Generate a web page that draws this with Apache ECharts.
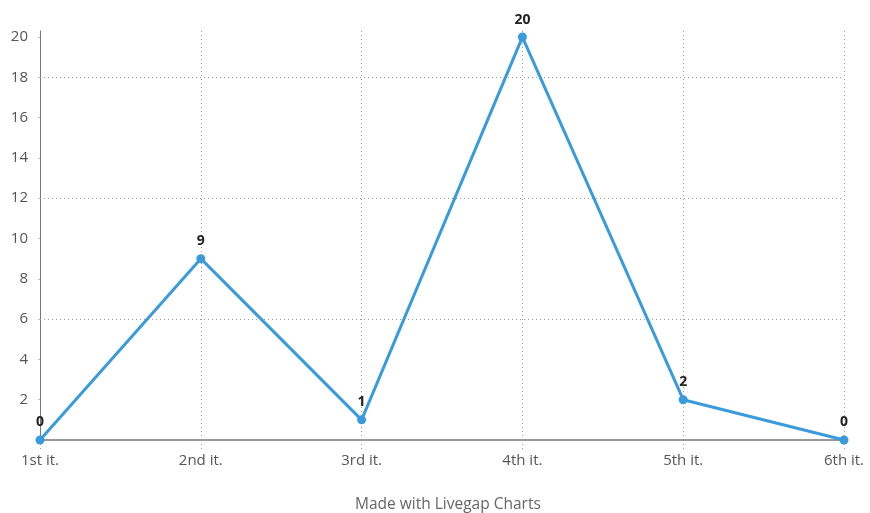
<!DOCTYPE html>
<html><head><meta charset="utf-8">
<script src="https://cdn.jsdelivr.net/npm/echarts@6/dist/echarts.min.js"></script>
<style>html,body{margin:0;padding:0;background:#fff}#c{width:870px;height:513px}</style>
</head><body><div id="c"></div>
<script>
const categories = ['1st it.', '2nd it.', '3rd it.', '4th it.', '5th it.', '6th it.'];
const values = [0, 9, 1, 20, 2, 0];
const yTicks = [0, 2, 4, 6, 8, 10, 12, 14, 16, 18, 20];
const gridValues = [6, 12, 18];
const font = '"Open Sans", "Noto Sans", sans-serif';
const chart = echarts.init(document.getElementById('c'));
chart.setOption({
  animation: false,
  title: { text: 'Made with Livegap Charts', left: 350, top: 492,
    textStyle: { fontFamily: font, fontSize: 15.5, fontWeight: 'normal', color: '#666' } },
  grid: { left: 40, right: 26, top: 31, bottom: 73 },
  xAxis: {
    type: 'category', data: categories, boundaryGap: false,
    axisLine: { lineStyle: { color: '#999', width: 2 } },
    axisTick: { show: true, length: 9, lineStyle: { color: '#999', type: [1, 3] } },
    axisLabel: { fontFamily: font, fontSize: 15, color: '#555', margin: 13 },
    splitLine: { show: true, lineStyle: { color: '#999', type: [1, 3], width: 1 } }
  },
  yAxis: {
    type: 'value', min: 0, max: 20.3,
    axisLine: { show: true, lineStyle: { color: '#777', width: 1 } },
    axisTick: { show: true, length: 2, customValues: yTicks, lineStyle: { color: '#bbb' } },
    axisLabel: { fontFamily: font, fontSize: 15, color: '#555', margin: 12,
      customValues: yTicks.filter(v => v !== 0) },
    splitLine: { show: false }
  },
  series: [{
    type: 'line', data: values,
    lineStyle: { color: '#3A9BDC', width: 3 },
    itemStyle: { color: '#3A9BDC' },
    symbol: 'circle', symbolSize: 9, z: 5,
    label: { show: true, position: 'top', distance: 6, fontFamily: font, fontSize: 14, fontWeight: 'bold', color: '#222' },
    markLine: {
      silent: true, symbol: 'none', label: { show: false }, z: 1,
      lineStyle: { color: '#999', type: [1, 3], width: 1 },
      data: gridValues.map(v => ({ yAxis: v }))
    }
  }]
});
</script></body></html>
